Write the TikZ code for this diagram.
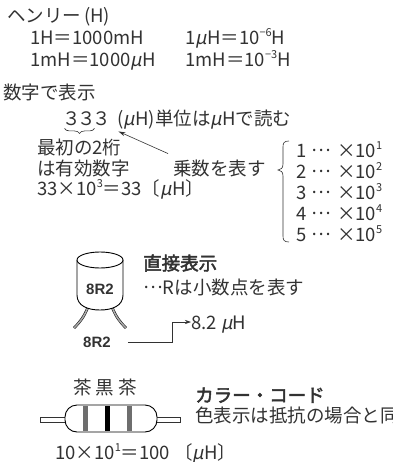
\documentclass[tikz,border=0pt]{standalone}
\usepackage{fontspec}
\setmainfont[AutoFakeBold=2.5]{Noto Sans CJK JP}
\newfontfamily\mufont[FakeSlant=0.2]{Noto Sans CJK JP}
\newfontfamily\tagfont{Liberation Sans}
\usetikzlibrary{decorations.pathreplacing,arrows.meta}
\definecolor{ink}{RGB}{50,50,50}
\definecolor{band}{RGB}{110,110,110}
\definecolor{wire}{RGB}{170,170,170}
\newcommand\uH{{\mufont μ}H}
\newcommand\supx[1]{\raisebox{0.8ex}{\fontsize{11}{11}\selectfont #1}}
\newcommand\mdots{\raisebox{0.3em}{…}}
\newcommand\factor[2]{#1\hspace{5pt}\mdots\hspace{6pt}×10\supx{#2}}
\tikzset{
  txt/.style={anchor=west, inner sep=0pt, text=ink,
    font=\fontsize{18.5}{18.5}\selectfont, text height=16.3pt, text depth=2.2pt},
  head/.style={txt, font=\fontsize{18.5}{18.5}\selectfont\bfseries},
  tag/.style={inner sep=0pt, text=ink, font=\tagfont\bfseries\fontsize{15}{15}\selectfont},
  thin/.style={line width=0.6pt, draw=ink},
  outline/.style={line width=0.9pt, draw=black},
  lead/.style={line width=0.5pt, double=wire, double distance=1.6pt},
  ptr/.style={thin, -{Stealth[length=7pt,width=4pt]}},
}
\begin{document}
\begin{tikzpicture}[x=1pt,y=-1pt]
\useasboundingbox (0,0) rectangle (392,462);
\clip (0,0) rectangle (392,462);

% units
\node[txt] (henry) at (7,15) {ヘンリー\,(H)};
\node[txt] (u1) at (30,37) {1H＝1000mH};
\node[txt] (u2) at (185,37) {1\uH＝10\supx{−6}H};
\node[txt] (u3) at (30,59) {1mH＝1000\uH};
\node[txt] (u4) at (185,59) {1mH＝10\supx{−3}H};

% numeric code
\node[txt] (numtitle) at (3,92) {数字で表示};
\node[txt,anchor=center] (d1) at (72,118) {３};
\node[txt,anchor=center] (d2) at (87,118) {３};
\node[txt,anchor=center] (d3) at (102,118) {３};
\node[txt] (unit) at ([xshift=6pt]d3.east) {(\uH)単位は\uH で読む};
\draw[thin, decorate, decoration={brace, mirror, amplitude=5pt}]
  ([xshift=2pt,yshift=-1pt]d1.south west) -- ([xshift=-2pt,yshift=-1pt]d2.south east);
\node[txt] (sig1) at (37,147) {最初の2桁};
\node[txt] (sig2) at (37,168) {は有効数字};
\node[txt] (ex) at (37,188) {33×10\supx{3}＝33〔\uH〕};
\node[txt] (mult) at (173,168) {乗数を表す};
\draw[ptr] ([xshift=-5pt,yshift=5pt]mult.north west) -- ([xshift=7pt,yshift=-4pt]d3.south east);

% multiplier table
\draw[thin] (289,141) .. controls (284,141) and (283,143) .. (283,147) -- (283,164)
  .. controls (283,168) and (281,170) .. (278,170)
  .. controls (281,170) and (283,172) .. (283,176) -- (283,236)
  .. controls (283,240) and (284,242) .. (289,242);
\node[txt] (r1) at (296,150) {\factor{1}{1}};
\node[txt] (r2) at (296,171) {\factor{2}{2}};
\node[txt] (r3) at (296,192) {\factor{3}{3}};
\node[txt] (r4) at (296,213) {\factor{4}{4}};
\node[txt] (r5) at (296,234) {\factor{5}{5}};

% direct marking: cylindrical inductor
\draw[lead] (88,307) .. controls (84,317) and (80,322) .. (74,328);
\draw[lead] (112,307) .. controls (116,317) and (120,322) .. (126,328);
\draw[outline, fill=white] (77,260) -- (77,295) .. controls (77,306) and (88,310) .. (100,310)
  .. controls (112,310) and (123,306) .. (123,295) -- (123,260);
\draw[outline, fill=white] (100,260) ellipse [x radius=23, y radius=8];
\node[tag] (body) at (100,289) {8R2};
\node[head] (direct) at (143,263) {直接表示};
\node[txt] (rnote) at (143,287) {\mdots Rは小数点を表す};
\node[tag, anchor=west] (code) at (83,342) {8R2};
\node[txt] (value) at (191,322) {8.2 \uH};
\coordinate (bend) at (172,342);
\draw[ptr, -{Stealth[length=6pt,width=4pt]}] ([xshift=17pt]code.east) -- (bend) |- (value.west);

% colour code: banded inductor
\draw[thin, fill=white] (40,417) rectangle (68,422);
\draw[thin, fill=white] (154,417) rectangle (180,422);
\draw[outline, fill=white, rounded corners=12pt] (65,405) rectangle (157,432);
\fill[band] (83,405.6) rectangle (88,431.4);
\fill[black] (105,405.6) rectangle (110,431.4);
\fill[band] (127,405.6) rectangle (132,431.4);
\node[txt] (colors) at (73,387) {茶 黒 茶};
\node[head] (cctitle) at (195,395) {カラー・コード};
\node[txt] (ccnote) at (195,415) {色表示は抵抗の場合と同};
\node[txt] (ccex) at (55,452) {10×10\supx{1}＝100 〔\uH〕};
\end{tikzpicture}
\end{document}
